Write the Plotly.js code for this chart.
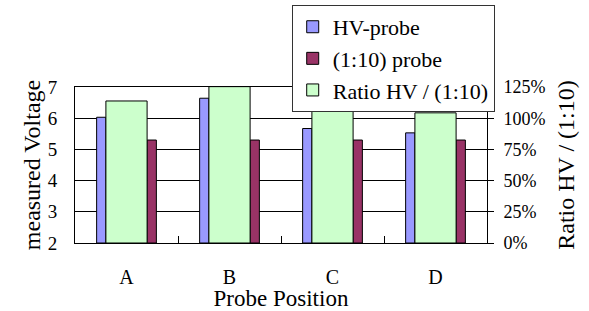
<!DOCTYPE html>
<html>
<head>
<meta charset="utf-8">
<script src="https://cdn.plot.ly/plotly-3.0.1.min.js"></script>
<style>
html,body{margin:0;padding:0;background:#fff;}
#chart{width:589px;height:311px;}
</style>
</head>
<body>
<div id="chart"></div>
<script>
const categories = ["A", "B", "C", "D"];
const hvProbe = [6.03, 6.64, 5.67, 5.53];
const tenProbe = [5.30, 5.30, 5.30, 5.30];
const ratio = [1.138, 1.253, 1.07, 1.043];
const seriesNames = ["HV-probe", "(1:10) probe", "Ratio HV / (1:10)"];
const leftTicks = [2, 3, 4, 5, 6, 7];
const rightTicks = [0, 0.25, 0.5, 0.75, 1.0, 1.25];

const FONT = "Liberation Serif";

const traces = [
  {
    type: "bar", name: seriesNames[0], x: categories,
    base: 2, y: hvProbe.map(v => v - 2),
    xaxis: "x", yaxis: "y",
    offset: -0.29, width: 0.09,
    marker: {color: "#9999FF", line: {color: "#000", width: 1}},
    legendgroup: "g1"
  },
  {
    type: "bar", name: seriesNames[1], x: categories,
    base: 2, y: tenProbe.map(v => v - 2),
    xaxis: "x", yaxis: "y",
    offset: 0.2, width: 0.09,
    marker: {color: "#993366", line: {color: "#000", width: 1}},
    legendgroup: "g2"
  },
  {
    type: "bar", name: seriesNames[2], x: categories, y: ratio,
    xaxis: "x", yaxis: "y2",
    offset: -0.2, width: 0.4,
    marker: {color: "#CCFFCC", line: {color: "#000", width: 1}},
    legendgroup: "g3"
  }
];

const layout = {
  width: 589, height: 311,
  margin: {l: 75, r: 102, t: 87, b: 68, pad: 0, autoexpand: false},
  paper_bgcolor: "#fff", plot_bgcolor: "#fff",
  font: {family: FONT, color: "#000", size: 18},
  barmode: "overlay",
  showlegend: true,
  legend: {
    x: 0.526, y: 1.526, xanchor: "left", yanchor: "top",
    bgcolor: "#fff", bordercolor: "#333", borderwidth: 1,
    font: {family: FONT, size: 22, color: "#000"},
    tracegroupgap: 8, traceorder: "normal"
  },
  xaxis: {
    type: "category",
    range: [-0.5, 3.5],
    showline: true, linecolor: "#000", linewidth: 1, mirror: true,
    ticks: "inside", tickson: "boundaries", ticklen: 7, tickcolor: "#000",
    showgrid: false, zeroline: false,
    tickfont: {family: FONT, size: 20},
    ticklabelstandoff: 16,
    title: {text: "Probe Position", font: {family: FONT, size: 23}, standoff: 6}
  },
  yaxis: {
    range: [2, 7], tickvals: leftTicks, ticktext: leftTicks.map(String),
    showline: true, linecolor: "#000", linewidth: 1,
    ticks: "inside", ticklen: 7, tickcolor: "#000",
    showgrid: true, gridcolor: "#000", gridwidth: 1, zeroline: false,
    tickfont: {family: FONT, size: 19},
    ticklabelstandoff: 13,
    title: {text: "measured Voltage", font: {family: FONT, size: 24}, standoff: 0}
  },
  yaxis2: {
    overlaying: "y", side: "right", anchor: "x",
    range: [0, 1.25], tickvals: rightTicks, tickformat: ".0%",
    showline: true, linecolor: "#000", linewidth: 1,
    ticks: "outside", ticklen: 6, tickcolor: "#000",
    showgrid: false, zeroline: false,
    tickfont: {family: FONT, size: 18},
    ticklabelstandoff: 6,
    title: {text: "Ratio HV / (1:10)", font: {family: FONT, size: 24}, standoff: 12}
  }
};

Plotly.newPlot("chart", traces, layout, {displayModeBar: false, staticPlot: true});
</script>
</body>
</html>
